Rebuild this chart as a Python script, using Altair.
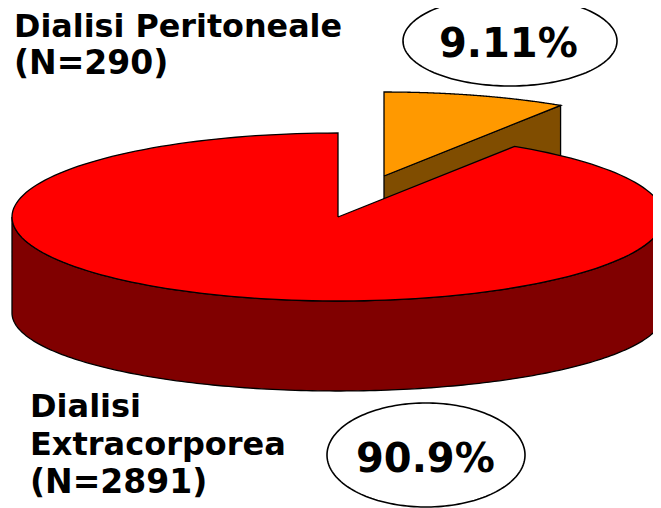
import numpy as np
import pandas as pd
import altair as alt

categories = ["Dialisi Peritoneale", "Dialisi Extracorporea"]
patients = [290, 2891]
shares = [9.11, 90.9]
share_labels = ["9.11%", "90.9%"]
label_lines = ["Dialisi Peritoneale", "(N=290)", "Dialisi", "Extracorporea", "(N=2891)"]

X = alt.X("x:Q", scale=alt.Scale(domain=[8, 653]), axis=None)
Y = alt.Y("y:Q", scale=alt.Scale(domain=[8, 508], reverse=True), axis=None)

CX, CY, RX, RY, DEPTH = 338, 217, 326, 84, 90
DX, DY = 46, -41
cut = 360 * shares[0] / 100


def rim(a0, a1, cx=CX, cy=CY, rx=RX, ry=RY, n=180):
    t = np.radians(np.linspace(a0, a1, n))
    return list(zip(cx + rx * np.sin(t), cy - ry * np.cos(t)))


def poly(points, fill, width=1.3):
    pts = list(points) + [points[0]]
    df = pd.DataFrame({"i": range(len(pts)), "x": [p[0] for p in pts], "y": [p[1] for p in pts]})
    return alt.Chart(df).mark_line(
        fill=fill, stroke="black", strokeWidth=width, clip=True, interpolate="linear"
    ).encode(x=X, y=Y, order=alt.Order("i:Q"))


def text(label, x, y, size):
    df = pd.DataFrame({"t": [label], "x": [x], "y": [y]})
    return alt.Chart(df).mark_text(
        align="left", baseline="alphabetic", font="DejaVu Sans", fontWeight="bold",
        fontSize=size, color="black",
    ).encode(x=X, y=Y, text="t:N")


# Peritoneal slice, pulled out from the pie
ax, ay = CX + DX, CY + DY
edge = rim(cut, cut, cx=ax, cy=ay, n=1)[0]
orange_side = poly([(ax, ay), edge, (edge[0], edge[1] + DEPTH), (ax, ay + DEPTH)], "#804D00")
orange_top = poly([(ax, ay)] + rim(0, cut, cx=ax, cy=ay), "#FF9900")

# Extracorporeal slice: the lower rim is a little flatter than the top, as in a perspective view
front = rim(90, 270)
lower = rim(270, 90, cy=CY + DEPTH + 6, ry=RY - 6)
red_side = poly(front + lower, "#800000")
red_top = poly([(CX, CY)] + rim(cut, 360), "#FF0000")

# Percentage bubbles
bubble_a = poly(rim(0, 360, cx=510, cy=41, rx=107, ry=45), "white", 1.6)
bubble_b = poly(rim(0, 360, cx=426, cy=455, rx=99, ry=52), "white", 1.6)

chart = alt.layer(
    orange_side, orange_top, red_side, red_top, bubble_a, bubble_b,
    text(label_lines[0], 14, 37, 31.8),
    text(label_lines[1], 14, 74, 33),
    text(label_lines[2], 30, 417, 32),
    text(label_lines[3], 30, 455, 32),
    text(label_lines[4], 30, 493, 33),
    text(share_labels[0], 439, 57, 40),
    text(share_labels[1], 356, 472, 40),
).properties(
    width=645, height=500, padding=0, background="white",
    autosize=alt.AutoSizeParams(type="none"),
).configure_view(stroke=None)

chart.save("out.html", embed_options={"renderer": "svg", "actions": False})
